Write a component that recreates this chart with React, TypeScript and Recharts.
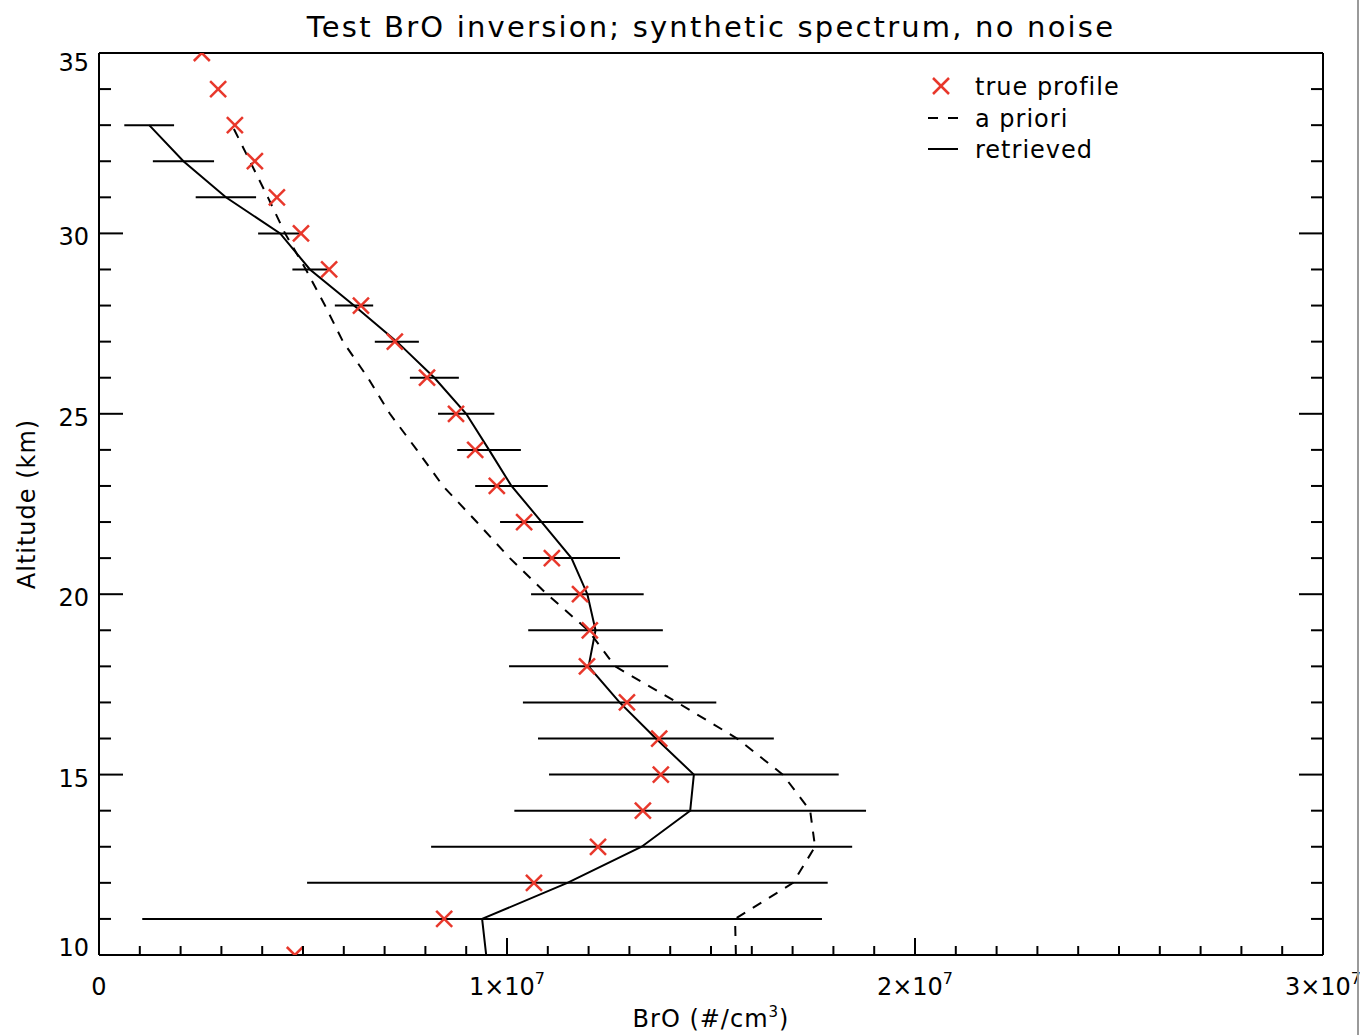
import React from "react";
import { ScatterChart, Scatter, XAxis, YAxis, ErrorBar } from "recharts";

// altitude grid, km
const altitudes = [10, 11, 12, 13, 14, 15, 16, 17, 18, 19, 20, 21, 22, 23, 24, 25, 26, 27, 28, 29, 30, 31, 32, 33, 34, 35];

// BrO number density in units of 1e6 #/cm3
const trueProfile = [4.8, 8.46, 10.66, 12.23, 13.33, 13.77, 13.73, 12.94, 11.96, 12.03, 11.79, 11.1, 10.42, 9.75, 9.22, 8.75, 8.04, 7.25, 6.42, 5.64, 4.95, 4.36, 3.82, 3.33, 2.92, 2.52];
const retrieved = [9.49, 9.39, 11.48, 13.3, 14.49, 14.58, 13.65, 12.76, 12.0, 12.17, 11.97, 11.58, 10.85, 10.11, 9.56, 9.0, 8.22, 7.3, 6.25, 5.17, 4.44, 3.11, 2.07, 1.23];
const retrievedErr = [0, 8.33, 6.38, 5.16, 4.31, 3.55, 2.89, 2.37, 1.95, 1.65, 1.38, 1.19, 1.02, 0.89, 0.78, 0.69, 0.6, 0.54, 0.47, 0.43, 0.54, 0.74, 0.75, 0.61];
const aPriori = [15.61, 15.59, 17.01, 17.55, 17.43, 16.76, 15.64, 14.17, 12.65, 11.99, 10.98, 10.07, 9.26, 8.43, 7.79, 7.13, 6.59, 5.98, 5.54, 5.07, 4.56, 4.14, 3.7, 3.26];

const xMajorTicks = [0, 1e7, 2e7, 3e7];
const yMajorTicks = [10, 15, 20, 25, 30, 35];
const legendItems = ["true profile", "a priori", "retrieved"];

const UNIT = 1e6;
const FONT = '"DejaVu Sans", sans-serif';
const RED = "#e8372b";

// minor ticks every 1e6 on x, every km on y
const xTicks: number[] = [];
for (let v = 0; v <= 3e7; v += 1e6) xTicks.push(v);
const yTicks: number[] = [];
for (let a = 10; a <= 35; a++) yTicks.push(a);

const trueData = altitudes.map((alt, i) => ({ alt, x: trueProfile[i] * UNIT }));
const retrievedData = retrieved.map((v, i) => ({ alt: altitudes[i], x: v * UNIT, err: retrievedErr[i] * UNIT }));
const aprioriData = aPriori.map((v, i) => ({ alt: altitudes[i], x: v * UNIT }));

const isMajorX = (v: number) => xMajorTicks.includes(v);
const isMajorY = (v: number) => yMajorTicks.includes(v);

function BottomTick({ x, y, payload }: any) {
  const v = payload.value;
  const major = isMajorX(v);
  const m = Math.round(v / 1e7);
  return (
    <g>
      <line x1={x} x2={x} y1={y} y2={y - (major ? 17 : 9)} stroke="#000" strokeWidth={2} />
      {major && (
        <text x={x} y={y + 40} textAnchor="middle" fontFamily={FONT} fontSize={24} fill="#000">
          {m === 0 ? (
            "0"
          ) : (
            <>
              <tspan>{`${m}×10`}</tspan>
              <tspan dy={-11} fontSize={16}>7</tspan>
            </>
          )}
        </text>
      )}
    </g>
  );
}

function TopTick({ x, y, payload }: any) {
  const major = isMajorX(payload.value);
  return <line x1={x} x2={x} y1={y} y2={y + (major ? 17 : 9)} stroke="#000" strokeWidth={2} />;
}

function LeftTick({ x, y, payload }: any) {
  const v = payload.value;
  const major = isMajorY(v);
  // end labels are nudged inward so they stay clear of the corners
  const first = v === yMajorTicks[0];
  const last = v === yMajorTicks[yMajorTicks.length - 1];
  const dy = first ? 1 : last ? 18 : 12;
  return (
    <g>
      <line x1={x} x2={x + (major ? 24 : 12)} y1={y} y2={y} stroke="#000" strokeWidth={2} />
      {major && (
        <text x={x - 10} y={y + dy} textAnchor="end" fontFamily={FONT} fontSize={24} fill="#000">
          {v}
        </text>
      )}
    </g>
  );
}

function RightTick({ x, y, payload }: any) {
  const major = isMajorY(payload.value);
  return <line x1={x} x2={x - (major ? 24 : 12)} y1={y} y2={y} stroke="#000" strokeWidth={2} />;
}

const Cross = ({ cx, cy }: any) => (
  <g stroke={RED} strokeWidth={2.5}>
    <line x1={cx - 8} y1={cy - 8} x2={cx + 8} y2={cy + 8} />
    <line x1={cx - 8} y1={cy + 8} x2={cx + 8} y2={cy - 8} />
  </g>
);

const NoDot = () => <g />;

function LegendBox() {
  return (
    <svg width={230} height={110} style={{ position: "absolute", left: 920, top: 66 }}>
      <g stroke={RED} strokeWidth={2.5}>
        <line x1={13} y1={12} x2={29} y2={28} />
        <line x1={13} y1={28} x2={29} y2={12} />
      </g>
      <line x1={8} x2={38} y1={52} y2={52} stroke="#000" strokeWidth={2} strokeDasharray="10 10" />
      <line x1={8} x2={38} y1={83} y2={83} stroke="#000" strokeWidth={2} />
      {legendItems.map((name, i) => (
        <text key={name} x={55} y={29 + i * 31.5} fontFamily={FONT} fontSize={24} letterSpacing={1} fill="#000">
          {name}
        </text>
      ))}
    </svg>
  );
}

export default function App() {
  return (
    <div style={{ position: "absolute", left: 0, top: 0, width: 1360, height: 1035, overflow: "hidden", background: "#fff" }}>
      <ScatterChart width={1360} height={1035} margin={{ top: 0, right: 0, bottom: 0, left: 0 }}>
        <XAxis
          xAxisId="b"
          type="number"
          dataKey="x"
          orientation="bottom"
          domain={[0, 3e7]}
          ticks={xTicks}
          interval={0}
          allowDataOverflow
          height={80}
          tickSize={0}
          tickMargin={0}
          tickLine={false}
          axisLine={{ stroke: "#000", strokeWidth: 2 }}
          tick={BottomTick}
          label={{
            content: ({ viewBox }: any) => (
              <text x={viewBox.x + viewBox.width / 2} y={viewBox.y + 72} textAnchor="middle" fontFamily={FONT} fontSize={24} fill="#000" letterSpacing={1}>
                <tspan>BrO (#/cm</tspan>
                <tspan dy={-10} fontSize={15}>3</tspan>
                <tspan dy={10}>)</tspan>
              </text>
            ),
          }}
        />
        <XAxis
          xAxisId="t"
          type="number"
          orientation="top"
          domain={[0, 3e7]}
          ticks={xTicks}
          interval={0}
          allowDataOverflow
          height={53}
          tickSize={0}
          tickMargin={0}
          tickLine={false}
          axisLine={{ stroke: "#000", strokeWidth: 2 }}
          tick={TopTick}
          label={{
            content: ({ viewBox }: any) => (
              <text x={viewBox.x + viewBox.width / 2} y={37} textAnchor="middle" fontFamily={FONT} fontSize={29} fill="#000" letterSpacing={2.2}>
                Test BrO inversion; synthetic spectrum, no noise
              </text>
            ),
          }}
        />
        <YAxis
          yAxisId="l"
          type="number"
          dataKey="alt"
          orientation="left"
          domain={[10, 35]}
          ticks={yTicks}
          interval={0}
          allowDataOverflow
          width={99}
          tickSize={0}
          tickMargin={0}
          tickLine={false}
          axisLine={{ stroke: "#000", strokeWidth: 2 }}
          tick={LeftTick}
          label={{
            content: ({ viewBox }: any) => {
              const cy = viewBox.y + viewBox.height / 2;
              return (
                <text x={35} y={cy} transform={`rotate(-90 35 ${cy})`} textAnchor="middle" fontFamily={FONT} fontSize={24} fill="#000" letterSpacing={1}>
                  Altitude (km)
                </text>
              );
            },
          }}
        />
        <YAxis
          yAxisId="r"
          type="number"
          orientation="right"
          domain={[10, 35]}
          ticks={yTicks}
          interval={0}
          allowDataOverflow
          width={37}
          tickSize={0}
          tickMargin={0}
          tickLine={false}
          axisLine={{ stroke: "#000", strokeWidth: 2 }}
          tick={RightTick}
        />

        <Scatter
          name="a priori"
          data={aprioriData}
          xAxisId="b"
          yAxisId="l"
          shape={NoDot}
          line={{ stroke: "#000", strokeWidth: 2, strokeDasharray: "10 9" }}
          isAnimationActive={false}
        />
        <Scatter
          name="retrieved"
          data={retrievedData}
          xAxisId="b"
          yAxisId="l"
          shape={NoDot}
          line={{ stroke: "#000", strokeWidth: 2 }}
          isAnimationActive={false}
        >
          <ErrorBar dataKey="err" direction="x" width={0} stroke="#000" strokeWidth={2} isAnimationActive={false} />
        </Scatter>
        <Scatter
          name="true profile"
          data={trueData}
          xAxisId="b"
          yAxisId="l"
          shape={Cross}
          isAnimationActive={false}
        />
      </ScatterChart>
      <LegendBox />
      <div style={{ position: "absolute", left: 1357, top: 0, width: 2, height: 1035, background: "#9a9a9a" }} />
    </div>
  );
}
